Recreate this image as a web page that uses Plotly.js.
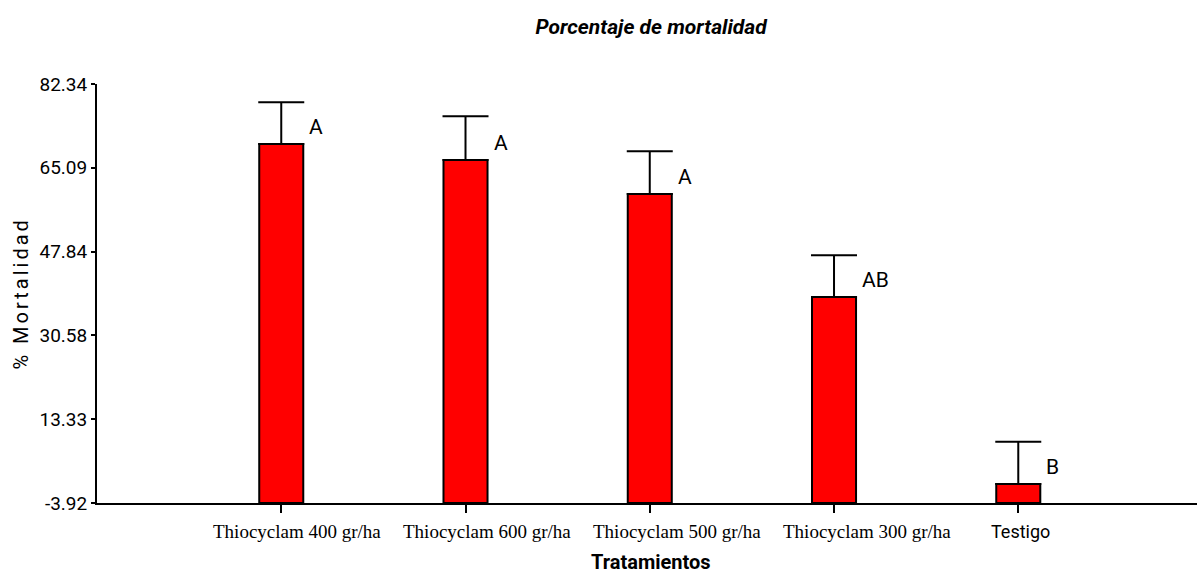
<!DOCTYPE html>
<html>
<head>
<meta charset="utf-8">
<script src="https://cdn.plot.ly/plotly-3.0.1.min.js"></script>
<style>
  html, body { margin: 0; padding: 0; background: #ffffff; }
  #chart { width: 1198px; height: 575px; }
</style>
</head>
<body>
<div id="chart"></div>
<script>
// ---- data ----
const categories = ["Thiocyclam 400 gr/ha", "Thiocyclam 600 gr/ha", "Thiocyclam 500 gr/ha", "Thiocyclam 300 gr/ha", "Testigo"];
const mortality = [70.0, 66.7, 59.7, 38.5, 0.0];
const errorUp = [8.6, 9.0, 8.8, 8.6, 8.7];
const groupLetters = ["A", "A", "A", "AB", "B"];
const yTickValues = [-3.92, 13.33, 30.58, 47.84, 65.09, 82.34];
const yTickLabels = ["-3.92", "13.33", "30.58", "47.84", "65.09", "82.34"];

// ---- style ----
const NARROW = "'Liberation Sans Narrow', 'Arial Narrow', Roboto, 'Liberation Sans', sans-serif";
const SERIF = "'Liberation Serif', 'Times New Roman', serif";
const yMin = yTickValues[0];
const yMax = yTickValues[yTickValues.length - 1];
const labelShift = [16, 21, 27, 33, 2];

const trace = {
  type: "bar",
  x: categories,
  y: mortality.map(v => v - yMin),
  base: yMin,
  width: 0.239,
  marker: { color: "#ff0000", line: { color: "#000000", width: 2 } },
  error_y: {
    type: "data",
    symmetric: false,
    array: errorUp,
    arrayminus: errorUp.map(() => 0),
    color: "#000000",
    thickness: 2,
    width: 23
  },
  hoverinfo: "skip"
};

const annotations = [];
categories.forEach((c, i) => {
  annotations.push({
    x: c, y: mortality[i], xref: "x", yref: "y",
    text: groupLetters[i], showarrow: false,
    xanchor: "left", yanchor: "middle", xshift: 26, yshift: 17,
    font: { family: NARROW, size: 21, color: "#000000" }
  });
  annotations.push({
    x: c, y: -0.069, xref: "x", yref: "paper",
    text: c, showarrow: false,
    xanchor: "center", yanchor: "middle", xshift: labelShift[i],
    font: { family: i === 4 ? NARROW : SERIF, size: i === 4 ? 18 : 19, color: "#000000" }
  });
});
annotations.push({
  x: -0.07, y: (yMin + yMax) / 2, xref: "paper", yref: "y",
  text: "% Mortalidad", showarrow: false, textangle: -90,
  xanchor: "center", yanchor: "middle",
  font: { family: NARROW, size: 20, color: "#000000" }
});
annotations.push({
  x: 0.5, y: -0.142, xref: "paper", yref: "paper",
  text: "<b>Tratamientos</b>", showarrow: false,
  xanchor: "center", yanchor: "middle", xshift: 4,
  font: { family: NARROW, size: 20, color: "#000000" }
});

const layout = {
  width: 1198,
  height: 575,
  margin: { l: 97, r: 1, t: 84, b: 72, pad: 0 },
  paper_bgcolor: "#ffffff",
  plot_bgcolor: "#ffffff",
  showlegend: false,
  title: {
    text: "<b><i>Porcentaje de mortalidad</i></b>",
    x: 0.5435, xanchor: "center",
    y: 0.953, yanchor: "middle",
    font: { family: NARROW, size: 21, color: "#000000" }
  },
  xaxis: {
    type: "category",
    range: [-1.0, 4.97],
    showgrid: false, zeroline: false,
    showline: true, linecolor: "#000000", linewidth: 2,
    ticks: "outside", ticklen: 8, tickwidth: 2, tickcolor: "#000000",
    showticklabels: false,
    fixedrange: true
  },
  yaxis: {
    range: [yMin, yMax],
    tickmode: "array",
    tickvals: yTickValues,
    ticktext: yTickLabels,
    showgrid: false, zeroline: false,
    showline: true, linecolor: "#000000", linewidth: 2,
    ticks: "outside", ticklen: 4, tickwidth: 2, tickcolor: "#000000",
    tickfont: { family: NARROW, size: 19, color: "#000000" },
    automargin: false,
    fixedrange: true
  },
  annotations: annotations
};

Plotly.newPlot("chart", [trace], layout, { displayModeBar: false, staticPlot: true }).then(() => {
  document.querySelectorAll(".annotation-text").forEach(t => {
    if (t.textContent === "% Mortalidad") t.setAttribute("letter-spacing", "3px");
  });
});
</script>
</body>
</html>
